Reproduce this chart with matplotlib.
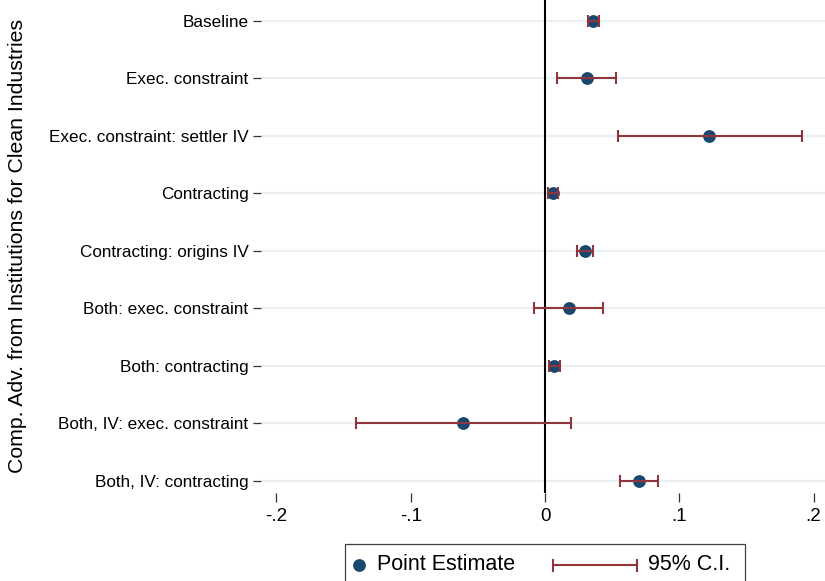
import matplotlib
matplotlib.use("Agg")
import matplotlib.pyplot as plt
from matplotlib.lines import Line2D
from matplotlib.patches import Rectangle

plt.rcParams['font.family'] = ['Liberation Sans', 'DejaVu Sans']

# coefficient estimates and 95% confidence bounds, top row first
labels = ["Baseline", "Exec. constraint", "Exec. constraint: settler IV",
          "Contracting", "Contracting: origins IV", "Both: exec. constraint",
          "Both: contracting", "Both, IV: exec. constraint", "Both, IV: contracting"]
estimates = [0.036, 0.031, 0.122, 0.006, 0.030, 0.018, 0.007, -0.061, 0.070]
ci_low = [0.032, 0.009, 0.054, 0.002, 0.024, -0.008, 0.003, -0.141, 0.056]
ci_high = [0.040, 0.053, 0.191, 0.010, 0.036, 0.043, 0.011, 0.019, 0.084]
xticks = [-0.2, -0.1, 0, 0.1, 0.2]
xticklabels = ["-.2", "-.1", "0", ".1", ".2"]

NAVY = '#1a476f'
MAROON = '#90353b'
W, H = 825, 581

fig = plt.figure(figsize=(W / 100, H / 100), dpi=100)
ax = fig.add_axes([261 / W, 1 - 493 / H, (W - 261) / W, 493 / H])

rows = list(range(1, len(labels) + 1))
err_lo = [e - l for e, l in zip(estimates, ci_low)]
err_hi = [h - e for e, h in zip(estimates, ci_high)]

# horizontal grid per row
for r in rows:
    ax.axhline(r, color='#eaf0f3', lw=1.6, zorder=0)
ax.axvline(0, color='black', lw=1.5, zorder=1)

ax.plot(estimates, rows, 'o', color=NAVY, ms=8.2, zorder=2)
ax.errorbar(estimates, rows, xerr=[err_lo, err_hi], fmt='none', ecolor=MAROON,
            elinewidth=1.5, capsize=4, capthick=1.5, zorder=3)

ax.set_xlim(-0.2115, 0.2085)
ax.set_ylim(9.214, 0.640)
ax.set_yticks(rows)
ax.set_yticklabels(labels, fontsize=12.3)
ax.set_xticks(xticks)
ax.set_xticklabels(xticklabels, fontsize=13.5)
ax.tick_params(axis='y', length=6, width=0.9, color='#333333', pad=3)
ax.tick_params(axis='x', length=6.5, width=0.9, color='#333333', pad=4)
for s in ax.spines.values():
    s.set_visible(False)

fig.text(18 / W, 1 - 246 / H, "Comp. Adv. from Institutions for Clean Industries",
         rotation=90, ha='center', va='center', fontsize=15.3)

# legend box, runs off the bottom edge like the original
fig.add_artist(Rectangle((345 / W, 1 - 600 / H), 400 / W, 56 / H,
                         transform=fig.transFigure, fill=False,
                         ec='#404040', lw=0.9))
ly = 1 - 565 / H
fig.add_artist(Line2D([359 / W], [ly], transform=fig.transFigure, marker='o',
                      color=NAVY, ms=8.2, ls='none'))
fig.text(377 / W, ly, "Point Estimate", va='center', ha='left', fontsize=15.5)
fig.add_artist(Line2D([553 / W, 637 / W], [ly, ly], transform=fig.transFigure,
                      color=MAROON, lw=1.5))
for cx in (553, 637):
    fig.add_artist(Line2D([cx / W, cx / W], [ly - 5.5 / H, ly + 5.5 / H],
                          transform=fig.transFigure, color=MAROON, lw=1.5))
fig.text(648 / W, ly, "95% C.I.", va='center', ha='left', fontsize=15.5)

fig.savefig("out.png", dpi=100)
